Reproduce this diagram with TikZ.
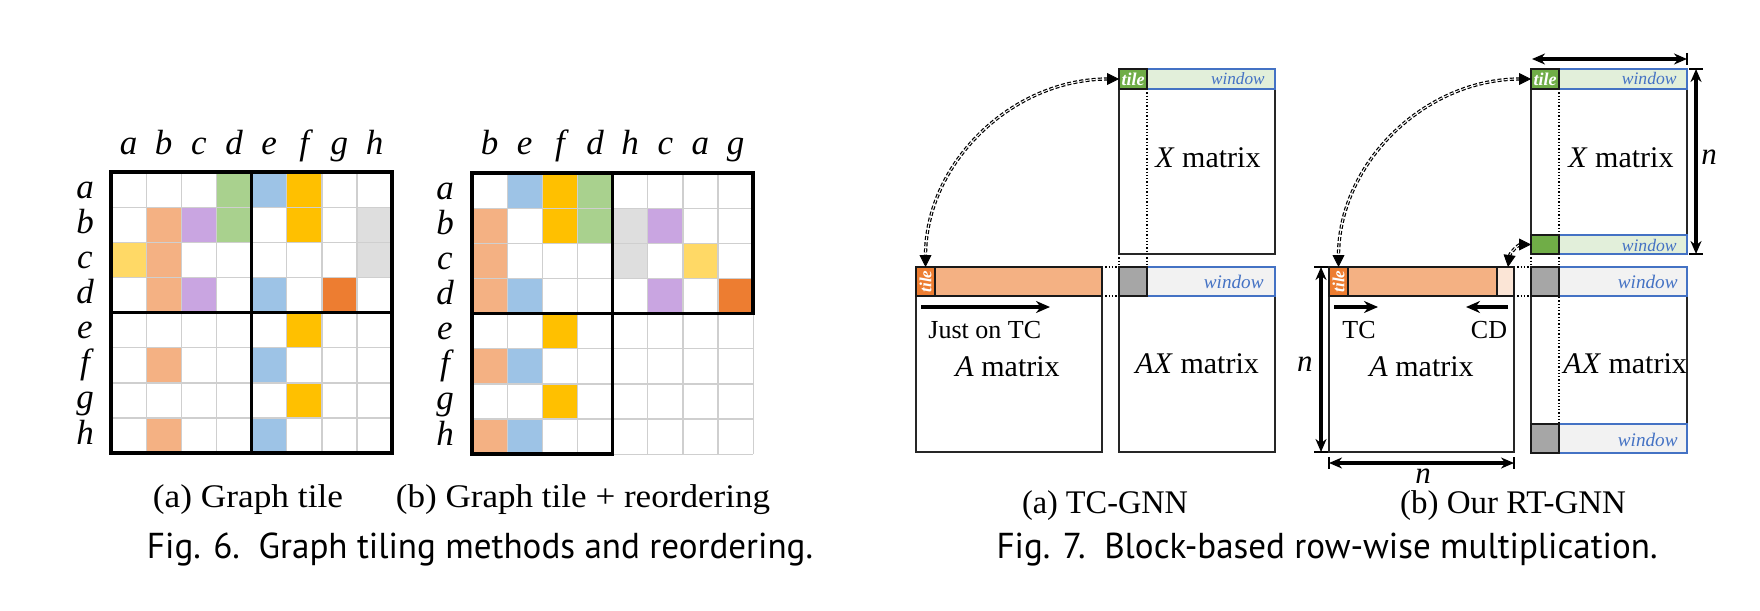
\documentclass[tikz,border=0pt]{standalone}
\usepackage{fontspec}
\setmainfont{Liberation Serif}
\newfontfamily\capfont{PT Sans}
\usetikzlibrary{arrows.meta}
\definecolor{cSal}{HTML}{F4B183}
\definecolor{cBlue}{HTML}{9DC3E6}
\definecolor{cGold}{HTML}{FFC000}
\definecolor{cGreen}{HTML}{A9D18E}
\definecolor{cPurp}{HTML}{C9A5E1}
\definecolor{cGray}{HTML}{DEDEDE}
\definecolor{cYel}{HTML}{FFD966}
\definecolor{cOra}{HTML}{ED7D31}
\definecolor{cGrid}{HTML}{CFCFCF}
\definecolor{wBlue}{HTML}{4472C4}
\definecolor{tGreen}{HTML}{70AD47}
\definecolor{wGreen}{HTML}{E2EFDA}
\definecolor{wGray}{HTML}{F2F2F2}
\definecolor{sqGray}{HTML}{A6A6A6}
\definecolor{lSal}{HTML}{FBE5D6}
\tikzset{
  gridthin/.style={draw=cGrid, line width=0.6pt},
  gridthick/.style={draw=black, line width=1.8pt},
  lbl/.style={font=\fontsize{17.5}{17.5}\selectfont\itshape, anchor=base, inner sep=0pt},
  captxt/.style={anchor=base, inner sep=0pt},
  matline/.style={draw=black!85, line width=0.75pt},
  winbar/.style={draw=wBlue, line width=1.1pt},
  tilebox/.style={draw=black!90, line width=1pt},
  bartop/.style={draw=black!90, line width=1.3pt},
  wintxt/.style={text=wBlue, anchor=base east, inner sep=0pt},
  mattxt/.style={font=\fontsize{15}{15}\selectfont, anchor=base west, inner sep=0pt},
  smalltxt/.style={font=\fontsize{13}{13}\selectfont, anchor=base, inner sep=0pt},
  dotl/.style={densely dotted, line width=0.65pt},
  ptr/.style={line width=1.6pt, -{Stealth[length=7pt,width=6pt]}},
  dimarr/.style={line width=1.6pt, {Stealth[length=6.5pt,width=5.5pt]}-{Stealth[length=6.5pt,width=5.5pt]}},
  tickmark/.style={line width=0.9pt},
  curvy/.style={double=white, double distance=0.45pt, line width=0.6pt, dash pattern=on 2pt off 1.1pt, shorten <=5.5pt, shorten >=5.5pt},
  tips/.style={dash pattern=on 0pt off 1000pt, {Triangle[length=6pt,width=6pt]}-{Triangle[length=6pt,width=6pt]}},
  tiletxt/.style={text=white, font=\fontsize{9}{9}\selectfont\bfseries\itshape, inner sep=0pt},
  nlbl/.style={font=\fontsize{15.5}{15.5}\selectfont\itshape, inner sep=0pt},
}
\begin{document}
\begin{tikzpicture}[x=0.5pt,y=-0.5pt]
\useasboundingbox (0,0) rectangle (1760,610);
\def\cs{35.15}
% ---------------- Grid (a)
\foreach \r/\c/\cl in {0/3/cGreen,0/4/cBlue,0/5/cGold,1/1/cSal,1/2/cPurp,1/3/cGreen,1/5/cGold,1/7/cGray,2/0/cYel,2/1/cSal,2/7/cGray,3/1/cSal,3/2/cPurp,3/4/cBlue,3/6/cOra,4/5/cGold,5/1/cSal,5/4/cBlue,6/5/cGold,7/1/cSal,7/4/cBlue}
  \fill[\cl] ({111+\c*\cs},{172+\r*\cs}) rectangle ++(\cs,\cs);
\foreach \i in {0,...,8} {
  \draw[gridthin] ({111+\i*\cs},172) -- ++(0,{8*\cs});
  \draw[gridthin] (111,{172+\i*\cs}) -- ++({8*\cs},0);
}
\draw[gridthick] (111,172) rectangle ++({8*\cs},{8*\cs});
\draw[gridthick] ({111+4*\cs},172) -- ++(0,{8*\cs});
\draw[gridthick] (111,{172+4*\cs}) -- ++({8*\cs},0);
\foreach \l [count=\i from 0] in {a,b,c,d,e,f,g,h} {
  \node[lbl] (ca\l) at ({111+(\i+0.5)*\cs},155) {\l};
  \node[lbl] (ra\l) at (85,{172+(\i+0.5)*\cs+8.5}) {\l};
}
% ---------------- Grid (b)
\foreach \r/\c/\cl in {0/1/cBlue,0/2/cGold,0/3/cGreen,1/0/cSal,1/2/cGold,1/3/cGreen,1/4/cGray,1/5/cPurp,2/0/cSal,2/4/cGray,2/6/cYel,3/0/cSal,3/1/cBlue,3/5/cPurp,3/7/cOra,4/2/cGold,5/0/cSal,5/1/cBlue,6/2/cGold,7/0/cSal,7/1/cBlue}
  \fill[\cl] ({472+\c*\cs},{173+\r*\cs}) rectangle ++(\cs,\cs);
\foreach \i in {0,...,8} {
  \draw[gridthin] ({472+\i*\cs},173) -- ++(0,{8*\cs});
  \draw[gridthin] (472,{173+\i*\cs}) -- ++({8*\cs},0);
}
\draw[gridthick] (472,173) rectangle ++({8*\cs},{4*\cs});
\draw[gridthick] (472,173) rectangle ++({4*\cs},{8*\cs});
\foreach \l [count=\i from 0] in {b,e,f,d,h,c,a,g} {
  \node[lbl] (cb\l) at ({472+(\i+0.5)*\cs},155) {\l};
}
\foreach \l [count=\i from 0] in {a,b,c,d,e,f,g,h} {
  \node[lbl] (rb\l) at (445,{173+(\i+0.5)*\cs+8.5}) {\l};
}
% ---------------- Fig 6 captions
\node[captxt] (capa) at (248,507) {\fontsize{16.5}{16.5}\selectfont\resizebox{95pt}{\height}{(a) Graph tile}};
\node[captxt] (capb) at (583,507) {\fontsize{16.5}{16.5}\selectfont\resizebox{187pt}{\height}{(b) Graph tile + reordering}};
\node[captxt] (fig6) at (480,558) {\capfont\fontsize{18}{18}\selectfont\resizebox{333pt}{\height}{Fig. 6.\ \ Graph tiling methods and reordering.}};

% ================= Fig 7 (a) TC-GNN
\draw[dotl] (1119,89) -- (1119,267);
\draw[dotl] (1147,89) -- (1147,267);
\draw[dotl] (1102,267) -- (1119,267);
\draw[dotl] (1102,296) -- (1119,296);
\draw[matline] (1119,69) rectangle (1275,254);
\draw[matline] (1119,267) rectangle (1275,452);
\draw[matline] (916,267) rectangle (1102,452);
% X window
\draw[winbar, fill=wGreen] (1119,69) rectangle (1275,89);
\draw[tilebox, fill=tGreen] (1119,69) rectangle (1147,89);
\node[tiletxt] (xtileA) at (1133,79) {tile};
\node[wintxt, font=\fontsize{8.6}{8.6}\selectfont\itshape] (xwinA) at (1265,85) {window};
% AX window
\draw[winbar, fill=wGray] (1119,267) rectangle (1275,296);
\draw[tilebox, fill=sqGray] (1119,267) rectangle (1147,296);
\node[wintxt, font=\fontsize{9.6}{9.6}\selectfont\itshape] (axwinA) at (1264,288) {window};
% A bar
\draw[bartop, fill=cSal] (916,267) rectangle (1102,296);
\draw[tilebox, fill=cOra] (916,267) rectangle (935,296);
\node[tiletxt, rotate=90, font=\fontsize{8.5}{8.5}\selectfont\bfseries\itshape] (atileA) at (925.5,281.5) {tile};
% labels
\coordinate (tcA1) at (921,307);
\coordinate (tcA2) at (1050,307);
\draw[ptr] (tcA1) -- (tcA2);
\node[smalltxt, anchor=base west] (justA) at (928,338) {Just on TC};
\node[mattxt] (amatA) at (955,376) {\textit{A} matrix};
\node[mattxt] (xmatA) at (1155,167) {\textit{X} matrix};
\node[mattxt] (axmatA) at (1135,373) {\textit{AX} matrix};
% curve
\coordinate (cA1) at (1119,79);
\coordinate (cA2) at (925.5,267);
\draw[curvy] (cA1) .. controls (1012,79) and (925.5,163) .. (cA2);
\draw[tips] (cA1) .. controls (1012,79) and (925.5,163) .. (cA2);
% caption
\node[captxt] (capTC) at (1105,513) {\fontsize{16.5}{16.5}\selectfont\resizebox{83pt}{\height}{(a) TC-GNN}};

% ================= Fig 7 (b) RT-GNN
\draw[dotl] (1531,89) -- (1531,424);
\draw[dotl] (1559,89) -- (1559,424);
\draw[dotl] (1514,267) -- (1531,267);
\draw[dotl] (1514,296) -- (1531,296);
\draw[matline] (1531,69) rectangle (1687,254);
\draw[matline] (1531,267) rectangle (1687,453);
\draw[matline] (1329,267) rectangle (1514,452);
% X windows
\draw[winbar, fill=wGreen] (1531,69) rectangle (1687,89);
\draw[tilebox, fill=tGreen] (1531,69) rectangle (1559,89);
\node[tiletxt] (xtileB) at (1545,79) {tile};
\node[wintxt, font=\fontsize{8.8}{8.8}\selectfont\itshape] (xwinB1) at (1677,85) {window};
\draw[winbar, fill=wGreen] (1531,235) rectangle (1687,254);
\draw[tilebox, fill=tGreen] (1531,235) rectangle (1559,254);
\node[wintxt, font=\fontsize{8.8}{8.8}\selectfont\itshape] (xwinB2) at (1677,251) {window};
% AX windows
\draw[winbar, fill=wGray] (1531,267) rectangle (1687,296);
\draw[tilebox, fill=sqGray] (1531,267) rectangle (1559,296);
\node[wintxt, font=\fontsize{9.6}{9.6}\selectfont\itshape] (axwinB1) at (1678,288) {window};
\draw[winbar, fill=wGray] (1531,424) rectangle (1687,453);
\draw[tilebox, fill=sqGray] (1531,424) rectangle (1559,453);
\node[wintxt, font=\fontsize{9.6}{9.6}\selectfont\itshape] (axwinB2) at (1678,446) {window};
% A bar
\fill[cSal] (1329,267) rectangle (1497,296);
\fill[lSal] (1497,267) rectangle (1514,296);
\draw[bartop] (1497,267) -- (1497,296);
\draw[bartop] (1329,267) rectangle (1514,296);
\draw[tilebox, fill=cOra] (1329,267) rectangle (1348,296);
\node[tiletxt, rotate=90, font=\fontsize{8.5}{8.5}\selectfont\bfseries\itshape] (atileB) at (1338.5,281.5) {tile};
% TC / CD
\coordinate (tcB1) at (1334,307);
\coordinate (tcB2) at (1378,307);
\draw[ptr] (tcB1) -- (tcB2);
\coordinate (cdB1) at (1508,307);
\coordinate (cdB2) at (1466,307);
\draw[ptr] (cdB1) -- (cdB2);
\node[smalltxt] (tcB) at (1359,338) {TC};
\node[smalltxt] (cdB) at (1489,338) {CD};
\node[mattxt] (amatB) at (1369,376) {\textit{A} matrix};
\node[mattxt] (xmatB) at (1568,167) {\textit{X} matrix};
\node[mattxt] (axmatB) at (1563,373) {\textit{AX} matrix};
% curves
\coordinate (cB1) at (1531,79);
\coordinate (cB2) at (1338.5,267);
\draw[curvy] (cB1) .. controls (1425,79) and (1338.5,163) .. (cB2);
\draw[tips] (cB1) .. controls (1425,79) and (1338.5,163) .. (cB2);
\coordinate (dB1) at (1531,244.5);
\coordinate (dB2) at (1508,267);
\draw[curvy] (dB1) .. controls (1519,244.5) and (1510,252) .. (dB2);
\draw[tips] (dB1) .. controls (1519,244.5) and (1510,252) .. (dB2);
% dimension arrows
\coordinate (dt1) at (1532,59);
\coordinate (dt2) at (1687,59);
\draw[dimarr] (dt1) -- (dt2);
\draw[tickmark] (1687,53) -- (1687,65);
\coordinate (dr1) at (1696,69);
\coordinate (dr2) at (1696,254);
\draw[dimarr] (dr1) -- (dr2);
\draw[tickmark] (1689,69) -- (1703,69);
\draw[tickmark] (1689,254) -- (1703,254);
\node[nlbl, anchor=base west] (nR) at (1701,164) {n};
\coordinate (dl1) at (1321,267);
\coordinate (dl2) at (1321,452);
\draw[dimarr] (dl1) -- (dl2);
\draw[tickmark] (1314,267) -- (1328,267);
\draw[tickmark] (1314,452) -- (1328,452);
\node[nlbl, anchor=base east] (nL) at (1313,371) {n};
\coordinate (db1) at (1329,463);
\coordinate (db2) at (1514,463);
\draw[dimarr] (db1) -- (db2);
\draw[tickmark] (1329,457) -- (1329,469);
\draw[tickmark] (1514,457) -- (1514,469);
\node[nlbl, anchor=base] (nB) at (1423,483) {n};
% captions
\node[captxt] (capRT) at (1513,513) {\fontsize{16.5}{16.5}\selectfont\resizebox{113pt}{\height}{(b) Our RT-GNN}};
\node[captxt] (fig7) at (1327,558) {\capfont\fontsize{18}{18}\selectfont\resizebox{330.5pt}{\height}{Fig. 7.\ \ Block-based row-wise multiplication.}};
\end{tikzpicture}
\end{document}
